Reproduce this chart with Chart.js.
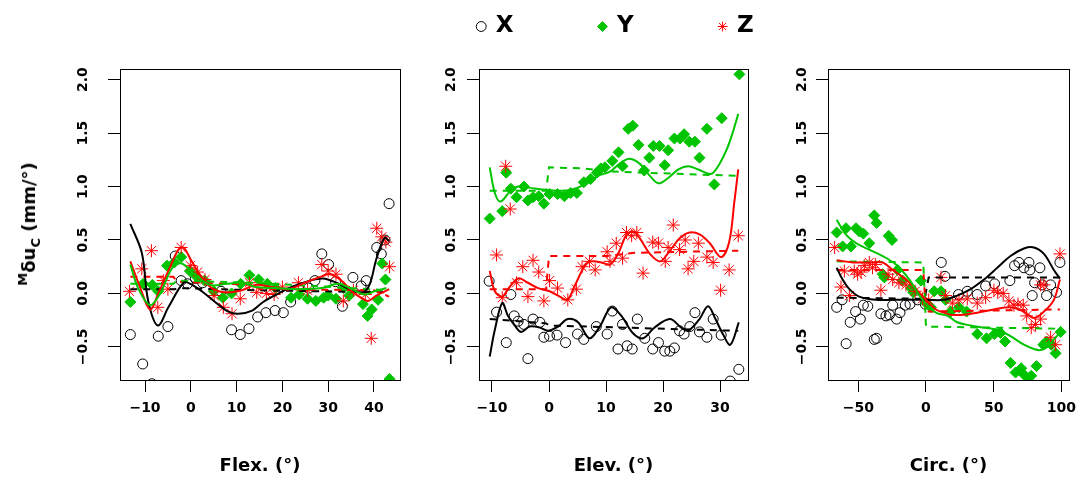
<!DOCTYPE html>
<html><head><meta charset="utf-8">
<script src="https://cdn.jsdelivr.net/npm/chart.js@4.4.1/dist/chart.umd.min.js"></script>
<style>
html,body{margin:0;padding:0;background:#fff;width:1086px;height:486px;overflow:hidden;position:relative}
canvas{position:absolute;pointer-events:none}
#ylab{position:absolute;left:30px;top:224px;transform:translate(-50%,-50%) rotate(-90deg);font:bold 18px 'DejaVu Sans';white-space:nowrap;color:#000;line-height:22px}
#ylab .m{font-size:13px;position:relative;top:-8px}
#ylab sub{font-size:13px;line-height:0}
</style></head><body>
<canvas id="c1" width="420" height="486" style="left:0;top:0"></canvas>
<canvas id="c2" width="348" height="486" style="left:440px;top:0"></canvas>
<canvas id="c3" width="296" height="486" style="left:790px;top:0"></canvas>
<canvas id="lg" width="600" height="320" style="left:316px;top:-71px"></canvas>
<div id="ylab"><span class="m">M</span>δu<sub>C</sub> (mm/°)</div>
<script>
// ---------- tick labels ----------
const yTicks = [-0.5, 0, 0.5, 1, 1.5, 2];
const flexTicks = [-10, 0, 10, 20, 30, 40];
const elevTicks = [-10, 0, 10, 20, 30];
const circTicks = [-50, 0, 50, 100];
const seriesNames = ['X', 'Y', 'Z'];
const axisTitles = ['Flex. (°)', 'Elev. (°)', 'Circ. (°)'];

// ---------- Panel 1: Flex ----------
const flexX = [[-13.2,-0.385],[-10.5,-0.66],[-8.5,-0.845],[-7.1,-0.40],[-5.0,-0.31],[-3.4,0.35],[-2.1,0.12],[-0.7,0.09],[1.0,0.14],[2.6,0.10],[6.6,0.02],[8.9,-0.34],[10.8,-0.385],[12.7,-0.33],[14.6,-0.22],[16.4,-0.18],[18.4,-0.16],[20.2,-0.18],[21.8,-0.08],[25.7,0.05],[27.1,0.12],[28.6,0.37],[30.1,0.27],[31.6,0.11],[33.1,-0.12],[35.4,0.15],[37.2,0.07],[38.3,0.12],[40.6,0.43],[41.6,0.37],[42.4,0.50],[43.3,0.84]];
const flexY = [[-13.2,-0.08],[-10.4,0.09],[-8.4,0.08],[-7.1,0.02],[-5.2,0.26],[-3.6,0.29],[-2.1,0.34],[-0.2,0.21],[1.2,0.16],[3.0,0.12],[5.0,0.02],[7.0,-0.04],[8.9,0.00],[10.9,0.09],[12.8,0.17],[14.8,0.13],[16.7,0.09],[18.5,0.05],[21.9,-0.04],[23.7,-0.01],[25.5,-0.05],[27.3,-0.07],[29.0,-0.04],[30.0,-0.02],[31.7,-0.05],[33.4,0.05],[34.6,-0.02],[37.6,-0.10],[38.6,-0.21],[39.5,-0.15],[40.9,-0.06],[41.8,0.28],[42.5,0.13],[43.4,-0.80]];
const flexZ = [[-13.4,0.02],[-10.7,0.23],[-8.6,0.40],[-7.2,-0.13],[-6.0,0.12],[-5.0,0.04],[-2.1,0.43],[-0.1,0.26],[1.5,0.20],[3.1,0.13],[5.1,-0.02],[7.1,-0.13],[9.0,-0.19],[10.8,-0.05],[12.8,0.10],[14.4,0.01],[16.5,0.00],[18.2,-0.01],[20.0,0.06],[23.5,0.10],[25.5,0.03],[28.6,0.27],[30.0,0.21],[31.7,0.18],[33.3,-0.07],[35.5,0.03],[38.1,-0.01],[39.4,-0.42],[40.6,0.61],[41.7,0.53],[42.6,0.48],[43.4,0.25]];
const flexXFit = [[-13.2,0.65],[-10.7,0.38],[-9.3,-0.07],[-7.2,-0.30],[-4.9,-0.13],[-1.6,0.10],[-0.1,0.09],[2.4,0.02],[5.3,-0.08],[8.2,-0.17],[10.4,-0.19],[13.4,-0.16],[15.8,-0.08],[18.7,-0.01],[22.0,0.06],[26.0,0.12],[28.9,0.14],[31.8,0.10],[34.7,0.04],[37.6,0.01],[39.1,0.09],[40.5,0.32],[42.3,0.52],[43.3,0.49]];
const flexYFit = [[-13.2,0.27],[-11.5,0.05],[-8.9,-0.11],[-6.7,0.0],[-4.0,0.24],[-2.0,0.28],[0.5,0.19],[4.2,0.08],[7.8,0.09],[11.4,0.10],[14.1,0.06],[18.4,0.05],[23.5,0.04],[28.6,0.05],[32.2,0.09],[35.1,0.04],[38.0,-0.01],[40.1,0.02],[42.7,0.05]];
const flexZFit = [[-13.2,0.30],[-11.1,0.06],[-8.9,-0.15],[-7.1,0.0],[-4.9,0.21],[-2.7,0.41],[-1.6,0.43],[0.2,0.30],[2.4,0.15],[4.6,0.05],[7.5,0.01],[11.2,0.03],[14.1,0.08],[17.7,0.06],[21.3,0.04],[24.9,0.10],[28.6,0.16],[30.4,0.18],[32.9,0.12],[35.1,0.02],[37.2,-0.04],[38.7,-0.07],[40.5,-0.02],[43.3,0.04]];
const flexXStep = [[-13.2,0.04],[-3.5,0.04],[-2.5,0.05],[14,0.03],[43.3,0.01]];
const flexYStep = [[-13.2,0.09],[-3.8,0.09],[-3.0,0.12],[14,0.10],[43.3,0.03]];
const flexZStep = [[-13.2,0.155],[-3.8,0.155],[-3.0,0.11],[14,0.08],[15,0.04],[40,0.03],[43.3,-0.03]];

// ---------- Panel 2: Elev ----------
const elevX = [[-10.5,0.115],[-9.2,-0.175],[-7.5,-0.46],[-6.7,-0.01],[-6.1,-0.21],[-5.4,-0.26],[-4.4,-0.29],[-3.7,-0.61],[-2.8,-0.24],[-1.6,-0.27],[-0.9,-0.41],[0.1,-0.40],[1.4,-0.39],[2.9,-0.46],[5.0,-0.38],[6.1,-0.43],[8.3,-0.31],[10.2,-0.38],[11.1,-0.165],[12.1,-0.52],[12.9,-0.29],[13.7,-0.49],[14.6,-0.52],[15.5,-0.24],[16.8,-0.42],[18.2,-0.52],[19.2,-0.46],[20.3,-0.54],[21.2,-0.54],[22.0,-0.51],[22.9,-0.35],[23.7,-0.38],[24.7,-0.31],[25.6,-0.18],[26.4,-0.36],[27.7,-0.41],[28.8,-0.24],[30.2,-0.39],[31.8,-0.82],[33.3,-0.71]];
const elevY = [[-10.4,0.70],[-8.2,0.77],[-7.5,1.13],[-6.7,0.98],[-5.7,0.90],[-4.4,1.00],[-3.7,0.87],[-2.8,0.90],[-1.8,0.91],[-0.9,0.84],[0.1,0.93],[1.5,0.93],[2.7,0.91],[3.8,0.94],[4.9,0.94],[6.1,1.04],[7.3,1.07],[8.4,1.13],[9.1,1.17],[9.8,1.18],[11.1,1.24],[12.2,1.32],[12.9,1.19],[13.9,1.54],[14.7,1.57],[15.7,1.39],[16.7,1.15],[17.6,1.27],[18.3,1.38],[19.4,1.38],[20.3,1.20],[20.9,1.34],[22.0,1.45],[23.0,1.45],[23.7,1.49],[24.6,1.42],[25.6,1.42],[26.4,1.27],[27.7,1.54],[29.0,1.02],[30.3,1.64],[33.4,2.05]];
const elevZ = [[-9.2,0.36],[-8.2,-0.04],[-7.6,1.19],[-6.8,0.79],[-5.7,0.10],[-4.6,0.25],[-3.7,-0.03],[-2.8,0.31],[-1.8,0.20],[-0.9,-0.07],[0.1,0.12],[1.5,0.05],[3.3,-0.06],[4.8,0.04],[5.8,0.25],[7.1,0.30],[8.1,0.22],[10.2,0.39],[10.7,0.30],[11.8,0.47],[12.9,0.33],[13.6,0.57],[14.5,0.54],[15.4,0.57],[16.5,0.19],[18.2,0.48],[19.2,0.47],[20.4,0.30],[20.9,0.43],[21.8,0.64],[22.9,0.41],[23.9,0.50],[24.4,0.23],[25.4,0.30],[26.2,0.47],[27.7,0.34],[28.8,0.29],[30.1,0.03],[31.6,0.22],[33.2,0.54]];
const elevXFit = [[-10.4,-0.59],[-9.5,-0.34],[-8.2,-0.09],[-7.2,-0.21],[-6.0,-0.30],[-4.9,-0.36],[-3.4,-0.31],[-1.6,-0.32],[-0.2,-0.35],[1.6,-0.31],[3.3,-0.24],[5.1,-0.27],[7.1,-0.42],[8.9,-0.31],[10.9,-0.13],[12.7,-0.21],[14.7,-0.37],[16.5,-0.42],[18.5,-0.32],[21.2,-0.24],[23.2,-0.32],[24.4,-0.35],[26.4,-0.24],[27.9,-0.12],[29.2,-0.24],[30.5,-0.38],[31.8,-0.48],[33.3,-0.27]];
const elevYFit = [[-10.4,1.18],[-9.5,0.94],[-8.5,0.86],[-6.6,0.97],[-5.4,1.00],[-3.7,0.99],[-0.8,0.97],[1.6,0.96],[3.9,0.97],[6.3,1.02],[8.6,1.10],[10.7,1.14],[12.5,1.22],[14.2,1.26],[16.0,1.21],[17.7,1.10],[19.2,1.03],[20.9,1.08],[22.7,1.16],[24.4,1.19],[26.2,1.16],[28.0,1.12],[28.8,1.13],[30.0,1.22],[31.2,1.35],[32.2,1.50],[33.2,1.68]];
const elevZFit = [[-10.4,0.21],[-9.5,0.02],[-8.2,-0.03],[-7.2,0.04],[-5.4,0.14],[-3.7,0.10],[-1.9,0.05],[0.1,0.02],[1.9,-0.03],[3.2,-0.06],[4.5,0.07],[6.3,0.26],[7.4,0.30],[9.2,0.29],[10.7,0.27],[12.2,0.38],[13.6,0.55],[14.8,0.58],[16.0,0.51],[17.7,0.37],[19.5,0.30],[21.2,0.40],[23.0,0.52],[24.7,0.57],[26.5,0.55],[28.2,0.47],[30.2,0.34],[31.6,0.48],[32.5,0.85],[33.2,1.16]];
const elevXStep = [[-10.4,-0.24],[-0.5,-0.28],[0,-0.30],[33.2,-0.35]];
const elevYStep = [[-10.4,0.96],[-0.5,0.96],[0,1.18],[6,1.17],[11,1.14],[33.2,1.10]];
const elevZStep = [[-10.4,0.04],[-0.5,0.04],[0,0.35],[10,0.35],[15,0.38],[33.2,0.40]];

// ---------- Panel 3: Circ ----------
const circX = [[-66,-0.13],[-62,-0.06],[-59,-0.47],[-56,-0.27],[-52,-0.17],[-48.5,-0.24],[-46.3,-0.11],[-43,-0.12],[-38.2,-0.43],[-36.5,-0.42],[-33.3,-0.19],[-29.6,-0.21],[-27,-0.20],[-24.6,-0.11],[-21.7,-0.24],[-19.2,-0.18],[-15.3,-0.11],[-11.8,-0.10],[-6.2,-0.06],[-0.5,-0.10],[11.3,0.29],[14,0.16],[24,-0.01],[30.5,0.02],[37.9,-0.01],[44.1,0.07],[50.7,0.09],[62,0.12],[65.5,0.26],[68.7,0.29],[72.4,0.24],[76.1,0.29],[76.8,0.22],[78.5,-0.02],[80.3,0.10],[84.2,0.24],[85.9,0.08],[89.1,-0.02],[92.1,0.08],[96.5,0.01],[99,0.29]];
const circY = [[-66,0.57],[-61.6,0.44],[-59.1,0.61],[-55.4,0.44],[-51.7,0.61],[-49.3,0.58],[-46.3,0.56],[-41.9,0.47],[-38.2,0.73],[-36.5,0.66],[-32,0.18],[-30.8,0.15],[-27.6,0.54],[-25.1,0.50],[-21,0.22],[-17.3,0.12],[-11.1,0.05],[-9.4,0.01],[-3.7,0.12],[0,-0.09],[3.7,-0.13],[6.1,0.02],[11.1,0.02],[14.5,-0.06],[18.2,-0.17],[24.4,-0.13],[30,-0.17],[37.9,-0.38],[44.8,-0.42],[50.7,-0.38],[55.1,-0.37],[58.4,-0.45],[62.5,-0.65],[66.2,-0.74],[70.4,-0.70],[72.4,-0.76],[76.1,-0.82],[77.8,-0.77],[81.7,-0.68],[86.7,-0.48],[89.1,-0.45],[92.6,-0.48],[95.8,-0.56],[99.5,-0.36]];
const circZ = [[-67.5,0.43],[-62.8,0.06],[-60.3,0.21],[-56.6,-0.02],[-53,0.21],[-50.5,0.18],[-48,0.20],[-45.6,0.26],[-41.9,0.29],[-39.5,0.24],[-37.4,0.27],[-33.3,0.03],[-28,0.18],[-24.6,0.13],[-20,0.10],[-14.8,0.08],[-8,0.02],[-2.5,-0.05],[2,-0.06],[11.1,0.15],[14.5,-0.02],[19.5,-0.09],[24.4,-0.06],[30.5,-0.05],[37.9,-0.09],[44.1,-0.04],[50.2,0.03],[53,0.01],[57.1,0.0],[61.3,-0.07],[65,-0.11],[68,-0.10],[71.9,-0.11],[74.4,-0.21],[77.8,-0.32],[81,-0.29],[84.7,-0.24],[84.7,0.08],[87.2,0.08],[92.1,-0.41],[95.8,-0.48],[99,0.37]];
const circXFit = [[-66,0.24],[-61.6,0.13],[-56.6,0.04],[-49.3,-0.03],[-37,-0.06],[-24.6,-0.06],[-12.3,-0.06],[0,-0.06],[13.3,-0.06],[23.1,-0.02],[33,0.04],[42.8,0.13],[52.7,0.24],[62.5,0.35],[72.4,0.42],[79.8,0.43],[87.2,0.37],[94.5,0.22],[99,0.14]];
const circYFit = [[-66,0.69],[-59.1,0.55],[-51.7,0.47],[-41.9,0.41],[-32,0.35],[-22.2,0.27],[-12.3,0.13],[-2.5,-0.06],[7.4,-0.18],[16,-0.21],[23.1,-0.27],[33,-0.30],[42.8,-0.32],[52.7,-0.34],[62.5,-0.40],[72.4,-0.48],[79.8,-0.52],[84.7,-0.53],[89.6,-0.50],[94.5,-0.43],[99,-0.37]];
const circZFit = [[-66,0.31],[-54,0.29],[-41.9,0.29],[-32,0.29],[-24.6,0.22],[-14.8,0.13],[-7.4,0.04],[0,-0.06],[7.4,-0.15],[13.3,-0.18],[18.2,-0.20],[28,-0.20],[37.9,-0.18],[50.2,-0.15],[62.5,-0.13],[72.4,-0.17],[79.8,-0.23],[87.2,-0.17],[94.5,-0.06],[99,0.13]];
const circXStep = [[-66,-0.04],[-1,-0.05],[2,0.15],[99,0.15]];
const circYStep = [[-66,0.30],[-2,0.29],[0,-0.31],[99,-0.33]];
const circZStep = [[-66,0.22],[-2,0.22],[0,-0.17],[99,-0.15]];

// ---------- styling ----------
const BLACK = '#000000', GREEN = '#00C400', RED = '#FF0000';
const FONT = 'DejaVu Sans';
const tickFont = {family: FONT, weight: 'bold', size: 14};
const titleFont = {family: FONT, weight: 'bold', size: 18};
const minus = v => (v < 0 ? '\u2212' : '') + Math.abs(v);
const fmtY = v => (v < 0 ? '\u2212' : '') + Math.abs(v).toFixed(1);

const framePlugin = {
  id: 'frame',
  afterDatasetsDraw(chart) {
    const a = chart.chartArea, ctx = chart.ctx;
    ctx.save();
    ctx.strokeStyle = '#000'; ctx.lineWidth = 1;
    ctx.strokeRect(Math.round(a.left) + 0.5, Math.round(a.top) + 0.5, Math.round(a.right - a.left), Math.round(a.bottom - a.top));
    ctx.restore();
  }
};

function pointSets(xs, ys, zs, useOrder) {
  return [
    {label: seriesNames[0], data: xs, pointStyle: 'circle', pointRadius: 5, pointBackgroundColor: 'rgba(0,0,0,0)', pointBorderColor: BLACK, pointBorderWidth: 1, order: useOrder ? 30 : 0},
    {label: seriesNames[1], data: ys, pointStyle: 'rectRot', pointRadius: 5.5, pointBackgroundColor: GREEN, pointBorderColor: GREEN, pointBorderWidth: 1, order: useOrder ? 29 : 0},
    {label: seriesNames[2], data: zs, pointStyle: 'star', pointRadius: 6.5, pointBackgroundColor: RED, pointBorderColor: RED, pointBorderWidth: 1, order: useOrder ? 28 : 0}
  ];
}
function lineSet(data, color, dashed, order) {
  return {data, showLine: true, pointRadius: 0, borderColor: color, backgroundColor: color, borderWidth: 2,
          borderDash: dashed ? [7, 6] : [], tension: dashed ? 0 : 0.35, order};
}

function makePanel(id, p) {
  return new Chart(document.getElementById(id), {
    type: 'scatter',
    data: {datasets: [
      ...pointSets(p.pts[0], p.pts[1], p.pts[2], true),
      lineSet(p.fit[0], BLACK, false, 12), lineSet(p.fit[2], RED, false, 11), lineSet(p.fit[1], GREEN, false, 10),
      lineSet(p.step[0], BLACK, true, 15), lineSet(p.step[2], RED, true, 14), lineSet(p.step[1], GREEN, true, 13)
    ]},
    options: {
      responsive: false, animation: false, devicePixelRatio: 1,
      layout: {padding: {left: p.padL, right: p.padR, top: 69, bottom: 0}},
      plugins: {legend: {display: false}, tooltip: {enabled: false}},
      scales: {
        x: {
          type: 'linear', min: p.xmin, max: p.xmax,
          afterBuildTicks: s => { s.ticks = p.xticks.map(v => ({value: v})); },
          afterFit: s => { s.height = 106; },
          grid: {display: true, drawOnChartArea: false, drawTicks: true, tickLength: 12, color: '#000', lineWidth: 1},
          border: {display: false},
          ticks: {font: tickFont, color: '#000', padding: 8, maxRotation: 0, autoSkip: false, callback: v => minus(v)},
          title: {display: true, text: p.title, font: titleFont, color: '#000', padding: {top: 0, bottom: 9}}
        },
        y: {
          type: 'linear', min: -0.81, max: 2.10,
          afterBuildTicks: s => { s.ticks = yTicks.map(v => ({value: v})); },
          afterFit: s => { s.width = p.yW; },
          grid: {display: true, drawOnChartArea: false, drawTicks: true, tickLength: 12, color: '#000', lineWidth: 1},
          border: {display: false},
          ticks: {font: tickFont, color: '#000', padding: p.yPad, minRotation: 90, maxRotation: 90, crossAlign: 'center', autoSkip: false, callback: v => fmtY(v)}
        }
      }
    },
    plugins: [framePlugin]
  });
}

makePanel('c1', {pts: [flexX, flexY, flexZ], fit: [flexXFit, flexYFit, flexZFit], step: [flexXStep, flexYStep, flexZStep],
  xmin: -15.46, xmax: 45.68, xticks: flexTicks, title: axisTitles[0], padL: 60, padR: 20, yW: 60, yPad: 6});
makePanel('c2', {pts: [elevX, elevY, elevZ], fit: [elevXFit, elevYFit, elevZFit], step: [elevXStep, elevYStep, elevZStep],
  xmin: -12.28, xmax: 34.91, xticks: elevTicks, title: axisTitles[1], padL: 0, padR: 40, yW: 39, yPad: -3});
makePanel('c3', {pts: [circX, circY, circZ], fit: [circXFit, circYFit, circZFit], step: [circXStep, circYStep, circZStep],
  xmin: -72.4, xmax: 105.7, xticks: circTicks, title: axisTitles[2], padL: 0, padR: 17, yW: 38, yPad: -5});

// ---------- legend (separate Chart.js instance) ----------
new Chart(document.getElementById('lg'), {
  type: 'scatter',
  data: {datasets: pointSets([], [], [], false)},
  options: {
    responsive: false, animation: false, devicePixelRatio: 1,
    layout: {padding: 0},
    scales: {x: {display: false, min: 0, max: 1}, y: {display: false, min: 0, max: 1}},
    plugins: {
      tooltip: {enabled: false},
      legend: {display: true, position: 'top', align: 'center', maxHeight: 200,
        labels: {usePointStyle: true, boxWidth: 6, boxHeight: 7, padding: 86, color: '#000',
                 font: {family: FONT, weight: 'bold', size: 23}}}
    }
  }
});
</script>
</body></html>
